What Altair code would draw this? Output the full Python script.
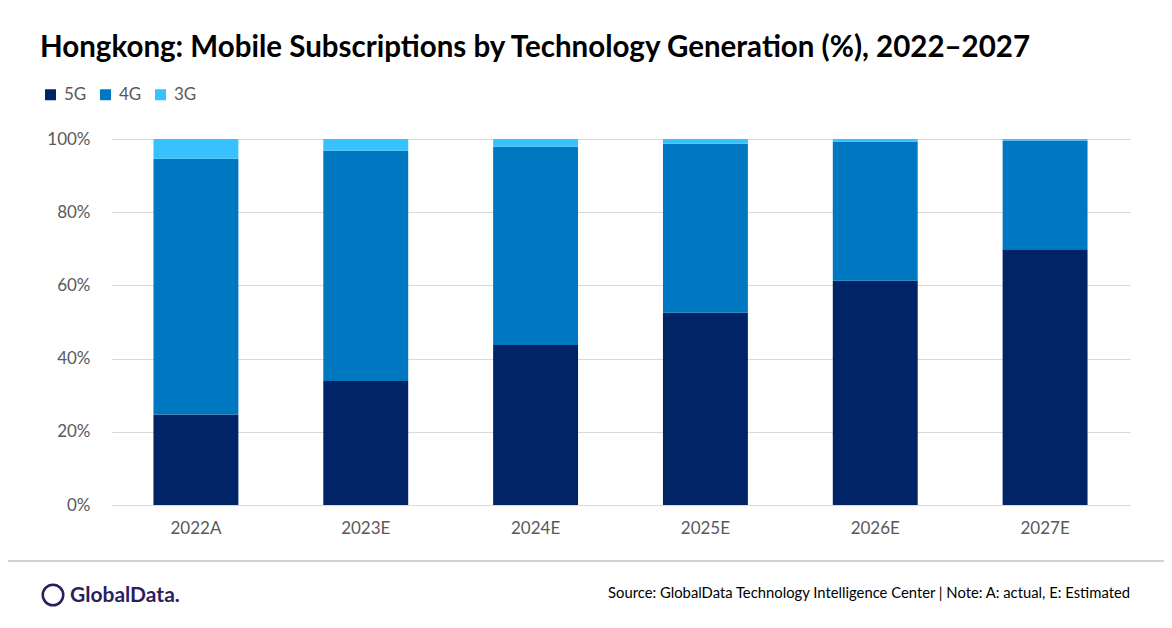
import altair as alt
import pandas as pd

years = ["2022A", "2023E", "2024E", "2025E", "2026E", "2027E"]
techs = ["5G", "4G", "3G"]
g5 = [24.7, 33.9, 43.7, 52.5, 61.3, 69.9]
g4 = [69.9, 62.9, 54.2, 46.2, 38.0, 29.7]
g3 = [5.4, 3.2, 2.1, 1.3, 0.7, 0.4]
colors = ["#002466", "#0078C1", "#37C2FF"]
y_ticks = [0, 20, 40, 60, 80, 100]

title_text = "Hongkong: Mobile Subscriptions by Technology Generation (%), 2022\u20132027"
source_text = "Source: GlobalData Technology Intelligence Center | Note: A: actual, E: Estimated"
logo_text = "GlobalData."

rows = []
for i, y in enumerate(years):
    for k, (t, vals) in enumerate(zip(techs, [g5, g4, g3])):
        rows.append({"Year": y, "Tech": t, "Value": vals[i], "ord": k})
df = pd.DataFrame(rows)

FONT = "Lato"
W, H = 1019, 366

bars = alt.Chart(df).mark_bar().encode(
    x=alt.X("Year:N", sort=years,
            scale=alt.Scale(paddingInner=0.5, paddingOuter=0.25),
            axis=alt.Axis(title=None, labelAngle=0, domain=False, ticks=False,
                          labelPadding=15, labelFontSize=17, labelColor="#595959",
                          labelFont=FONT, grid=False)),
    y=alt.Y("Value:Q", stack="zero",
            scale=alt.Scale(domain=[0, 100], nice=False),
            axis=alt.Axis(title=None, values=y_ticks, labelExpr="datum.value + '%'",
                          domain=False, ticks=False, gridColor="#d9d9d9", gridWidth=1,
                          labelPadding=21, labelFontSize=17, labelColor="#595959",
                          labelFont=FONT)),
    color=alt.Color("Tech:N",
                    scale=alt.Scale(domain=techs, range=colors),
                    legend=alt.Legend(orient="none", legendX=-69, legendY=-53,
                                      direction="horizontal", title=None,
                                      symbolType="square", symbolSize=121,
                                      symbolStrokeWidth=0, labelFontSize=17,
                                      labelColor="#595959", labelFont=FONT,
                                      labelOffset=5, columnPadding=10, padding=0)),
    order=alt.Order("ord:Q", sort="ascending"),
)

title = alt.Chart(pd.DataFrame({"t": [title_text]})).mark_text(
    align="left", baseline="alphabetic", font=FONT, fontSize=29.5, fontWeight="bold",
    color="#000000"
).encode(text="t:N", x=alt.value(-71), y=alt.value(-82))

source = alt.Chart(pd.DataFrame({"t": [source_text]})).mark_text(
    align="right", baseline="middle", font=FONT, fontSize=14.8, color="#000000"
).encode(text="t:N", x=alt.value(W), y=alt.value(455))

logo = alt.Chart(pd.DataFrame({"t": [logo_text]})).mark_text(
    align="left", baseline="middle", font=FONT, fontSize=21, fontWeight="bold",
    color="#2d1e5c"
).encode(text="t:N", x=alt.value(-41), y=alt.value(457))

logo_icon = alt.Chart(pd.DataFrame({"t": [logo_text]})).mark_point(
    shape="circle", filled=False, size=420, strokeWidth=2.5, color="#2d1e5c", opacity=1
).encode(x=alt.value(-58), y=alt.value(456))

rule = alt.Chart(pd.DataFrame({"t": [1]})).mark_rule(
    color="#a6a6a6", strokeWidth=1.2
).encode(x=alt.value(-103), x2=alt.value(W + 34), y=alt.value(422))

chart = alt.layer(bars, title, source, logo, logo_icon, rule).properties(
    width=W, height=H,
    padding={"left": 103, "top": 131, "right": 34, "bottom": 115},
    autosize=alt.AutoSizeParams(type="none"),
    background="white",
).configure_view(stroke=None)

chart.save("out.html", embed_options={"renderer": "svg", "actions": False})
